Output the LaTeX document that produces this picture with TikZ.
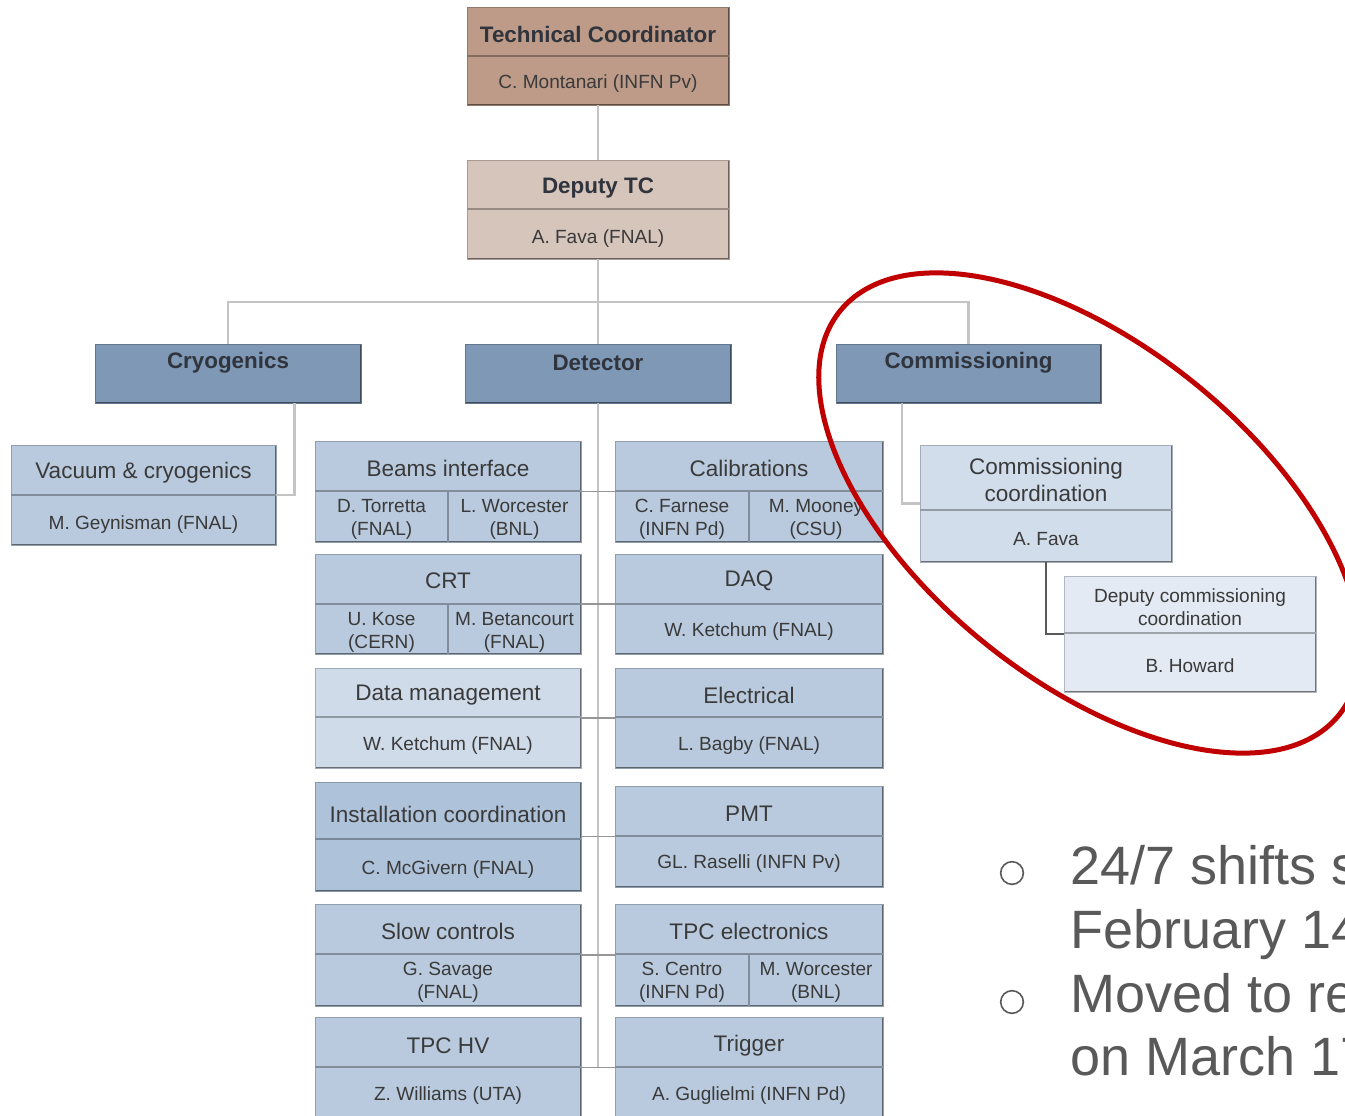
\documentclass[tikz,border=0pt]{standalone}
\usepackage{fontspec}
\setmainfont{Liberation Sans}
\usepackage{tikz}
\usetikzlibrary{fit}

\definecolor{tcbrown}{RGB}{189,155,136}
\definecolor{dtcbrown}{RGB}{214,197,187}
\definecolor{headblue}{RGB}{127,152,182}
\definecolor{unitblue}{RGB}{185,202,222}
\definecolor{paleblue}{RGB}{207,219,233}
\definecolor{deepblue}{RGB}{174,194,218}
\definecolor{ccblue}{RGB}{209,221,235}
\definecolor{dccblue}{RGB}{227,234,243}
\definecolor{linkgray}{RGB}{196,196,196}
\definecolor{gridgray}{RGB}{150,150,150}
\definecolor{subgray}{RGB}{90,90,90}
\definecolor{textgray}{RGB}{58,58,58}
\definecolor{headtextgray}{RGB}{48,52,60}
\definecolor{ringred}{RGB}{192,0,0}
\definecolor{slidegray}{RGB}{89,89,89}

\tikzset{
  orgbox/.style={fill=#1, draw=#1!78!black, line width=0.6pt, inner sep=0pt,
    path picture={\draw[line width=1.8pt, #1!50!black]
      (path picture bounding box.south west) -- (path picture bounding box.south east)
      -- (path picture bounding box.north east);}},
  divline/.style={draw=#1!70!black, line width=0.8pt},
  divline/.default=unitblue,
  headtext/.style={font=\bfseries\fontsize{16.8}{20}\selectfont, text=headtextgray, inner sep=0pt, yshift=-1.5pt},
  titletext/.style={font=\fontsize{16.9}{20.25}\selectfont, text=textgray, inner sep=0pt, align=center, yshift=-1.5pt},
  nametext/.style={font=\fontsize{14.3}{17.25}\selectfont, text=textgray, inner sep=0pt, align=center, yshift=-2pt},
  link/.style={draw=linkgray, line width=2pt},
  gridlink/.style={draw=gridgray, line width=1.2pt},
  sublink/.style={draw=subgray, line width=1.1pt},
  slidetext/.style={font=\fontsize{40.5}{48}\selectfont, text=slidegray, inner sep=0pt, anchor=base west},
  bulletring/.style={circle, draw=slidegray, line width=1.2pt, minimum size=17pt, inner sep=0pt}
}

\begin{document}
\begin{tikzpicture}[x=0.75pt,y=0.75pt,yscale=-1,xscale=1]
\useasboundingbox (0,0) rectangle (1345,1116);
\clip (0,0) rectangle (1345,1116);

%Shape: Rectangle [Technical Coordinator]
\node [orgbox=tcbrown, fit={(467,7) (729,105)}] (tc) {};
\draw [divline=tcbrown] (467,56) -- (729,56) ;
% Text Node
\node [headtext] (tctitle) at (598,32) {Technical Coordinator};
\node [nametext] (tcname) at (598,81) {C. Montanari (INFN Pv)};

%Shape: Rectangle [Deputy TC]
\node [orgbox=dtcbrown, fit={(467,160) (729,259)}] (dtc) {};
\draw [divline=dtcbrown] (467,209) -- (729,209) ;
% Text Node
\node [headtext] (dtctitle) at (598,186) {Deputy TC};
\node [nametext] (dtcname) at (598,236) {A. Fava (FNAL)};

%Shape: Rectangle [areas]
\node [orgbox=headblue, fit={(95,344) (361,403)}] (cryo) {};
\node [orgbox=headblue, fit={(465,344) (731,403)}] (detector) {};
\node [orgbox=headblue, fit={(836,344) (1101,403)}] (comm) {};
% Text Node
\node [headtext] (cryotitle) at (228,361) {Cryogenics};
\node [headtext] (dettitle) at (598,361) {Detector};
\node [headtext] (commtitle) at (968.5,361) {Commissioning};

%Shape: Rectangle [Vacuum & cryogenics]
\node [orgbox=unitblue, fit={(11,445) (276,545)}] (vac) {};
\draw [divline] (11,495) -- (276,495) ;
\node [titletext] (vactitle) at (143.5,471) {Vacuum \& cryogenics};
\node [nametext] (vacname) at (143.5,522) {M. Geynisman (FNAL)};

%Shape: Rectangle [Beams interface]
\node [orgbox=unitblue, fit={(315,441) (581,542)}] (beams) {};
\draw [divline] (315,491) -- (581,491) ;
\draw [divline] (448,491) -- (448,542) ;
\node [titletext] (beamstitle) at (448,466) {Beams interface};
\node [nametext] (beamsnamea) at (381.5,517) {D. Torretta\\(FNAL)};
\node [nametext] (beamsnameb) at (514.5,517) {L. Worcester\\(BNL)};

%Shape: Rectangle [Calibrations]
\node [orgbox=unitblue, fit={(615,441) (883,542)}] (calib) {};
\draw [divline] (615,491) -- (883,491) ;
\draw [divline] (749,491) -- (749,542) ;
\node [titletext] (calibtitle) at (749,466) {Calibrations};
\node [nametext] (calibnamea) at (682,517) {C. Farnese\\(INFN Pd)};
\node [nametext] (calibnameb) at (816,517) {M. Mooney\\(CSU)};

%Shape: Rectangle [CRT]
\node [orgbox=unitblue, fit={(315,554) (581,654)}] (crt) {};
\draw [divline] (315,604) -- (581,604) ;
\draw [divline] (448,604) -- (448,654) ;
\node [titletext] (crttitle) at (448,579) {CRT};
\node [nametext] (crtnamea) at (381.5,629.5) {U. Kose\\(CERN)};
\node [nametext] (crtnameb) at (514.5,629.5) {M. Betancourt\\(FNAL)};

%Shape: Rectangle [DAQ]
\node [orgbox=unitblue, fit={(615,554) (883,654)}] (daq) {};
\draw [divline] (615,604) -- (883,604) ;
\node [titletext] (daqtitle) at (749,579) {DAQ};
\node [nametext] (daqname) at (749,629) {W. Ketchum (FNAL)};

%Shape: Rectangle [Data management]
\node [orgbox=paleblue, fit={(315,668) (581,768)}] (datam) {};
\draw [divline=paleblue] (315,717) -- (581,717) ;
\node [titletext] (datamtitle) at (448,693) {Data management};
\node [nametext] (datamname) at (448,743) {W. Ketchum (FNAL)};

%Shape: Rectangle [Electrical]
\node [orgbox=unitblue, fit={(615,668) (883,768)}] (elec) {};
\draw [divline] (615,717) -- (883,717) ;
\node [titletext] (electitle) at (749,693) {Electrical};
\node [nametext] (elecname) at (749,743) {L. Bagby (FNAL)};

%Shape: Rectangle [Installation coordination]
\node [orgbox=deepblue, fit={(315,782) (581,891)}] (install) {};
\draw [divline=deepblue] (315,839) -- (581,839) ;
\node [titletext] (installtitle) at (448,812) {Installation coordination};
\node [nametext] (installname) at (448,867) {C. McGivern (FNAL)};

%Shape: Rectangle [PMT]
\node [orgbox=unitblue, fit={(615,786) (883,887)}] (pmt) {};
\draw [divline] (615,836) -- (883,836) ;
\node [titletext] (pmttitle) at (749,812) {PMT};
\node [nametext] (pmtname) at (749,861) {GL. Raselli (INFN Pv)};

%Shape: Rectangle [Slow controls]
\node [orgbox=unitblue, fit={(315,904) (581,1006)}] (slowc) {};
\draw [divline] (315,954) -- (581,954) ;
\node [titletext] (slowctitle) at (448,929) {Slow controls};
\node [nametext] (slowcname) at (448,980) {G. Savage\\(FNAL)};

%Shape: Rectangle [TPC electronics]
\node [orgbox=unitblue, fit={(615,904) (883,1006)}] (tpcel) {};
\draw [divline] (615,954) -- (883,954) ;
\draw [divline] (749,954) -- (749,1006) ;
\node [titletext] (tpceltitle) at (749,929) {TPC electronics};
\node [nametext] (tpcelnamea) at (682,980) {S. Centro\\(INFN Pd)};
\node [nametext] (tpcelnameb) at (816,980) {M. Worcester\\(BNL)};

%Shape: Rectangle [TPC HV]
\node [orgbox=unitblue, fit={(315,1017) (581,1118)}] (tpchv) {};
\draw [divline] (315,1067) -- (581,1067) ;
\node [titletext] (tpchvtitle) at (448,1044) {TPC HV};
\node [nametext] (tpchvname) at (448,1093) {Z. Williams (UTA)};

%Shape: Rectangle [Trigger]
\node [orgbox=unitblue, fit={(615,1017) (883,1118)}] (trig) {};
\draw [divline] (615,1067) -- (883,1067) ;
\node [titletext] (trigtitle) at (749,1044) {Trigger};
\node [nametext] (trigname) at (749,1093) {A. Guglielmi (INFN Pd)};

%Shape: Rectangle [Commissioning coordination]
\node [orgbox=ccblue, fit={(920,445) (1172,562)}] (ccoord) {};
\draw [divline=ccblue] (920,510) -- (1172,510) ;
\node [titletext] (ccoordtitle) at (1046,478) {Commissioning\\coordination};
\node [nametext] (ccoordname) at (1046,536) {A. Fava};

%Shape: Rectangle [Deputy commissioning coordination]
\node [orgbox=dccblue, fit={(1064,576) (1316,692)}] (dcoord) {};
\draw [divline=dccblue] (1064,633) -- (1316,633) ;
\node [nametext] (dcoordtitle) at (1190,605) {Deputy commissioning\\coordination};
\node [nametext] (dcoordname) at (1190,663) {B. Howard};

%Straight Lines [reporting lines]
\coordinate (bus) at (598,302);
\coordinate (cryotap) at (294.5,403);
\coordinate (commtap) at (902,403);
\draw [link] (tc.south) -- (dtc.north) ;
\draw [link] (dtc.south) -- (detector.north) ;
\draw [link] (cryo.north) -- (cryo.north |- bus) -- (comm.north |- bus) -- (comm.north) ;
\draw [link] (cryotap) |- (vac.east) ;
\draw [link] (detector.south) -- (detector.south |- tpchv.east) ;
\draw [gridlink] (beams.east) -- (calib.west) ;
\draw [gridlink] (crt.east) -- (daq.west) ;
\draw [gridlink] (datam.east) -- (elec.west) ;
\draw [gridlink] (install.east) -- (pmt.west) ;
\draw [gridlink] (slowc.east) -- (tpcel.west) ;
\draw [gridlink] (tpchv.east) -- (trig.west) ;
\draw [link] (commtap) |- (ccoord.west) ;
\draw [sublink] (ccoord.south) |- (dcoord.west) ;

%Shape: Ellipse [highlight]
\draw [ringred, line width=3.75pt, rotate around={39:(1089.5,513)}] (1089.5,513) ellipse [x radius=321, y radius=167] ;

% Text Node [slide bullets]
\node [bulletring] (bulleta) at (1012,873) {};
\node [bulletring] (bulletb) at (1012,1002) {};
\node [slidetext] (linea) at (1070,884) {24/7 shifts s};
\node [slidetext] (lineb) at (1070,948) {February 14};
\node [slidetext] (linec) at (1070,1012) {Moved to re};
\node [slidetext] (lined) at (1070,1075) {on March 17};
\end{tikzpicture}
\end{document}
